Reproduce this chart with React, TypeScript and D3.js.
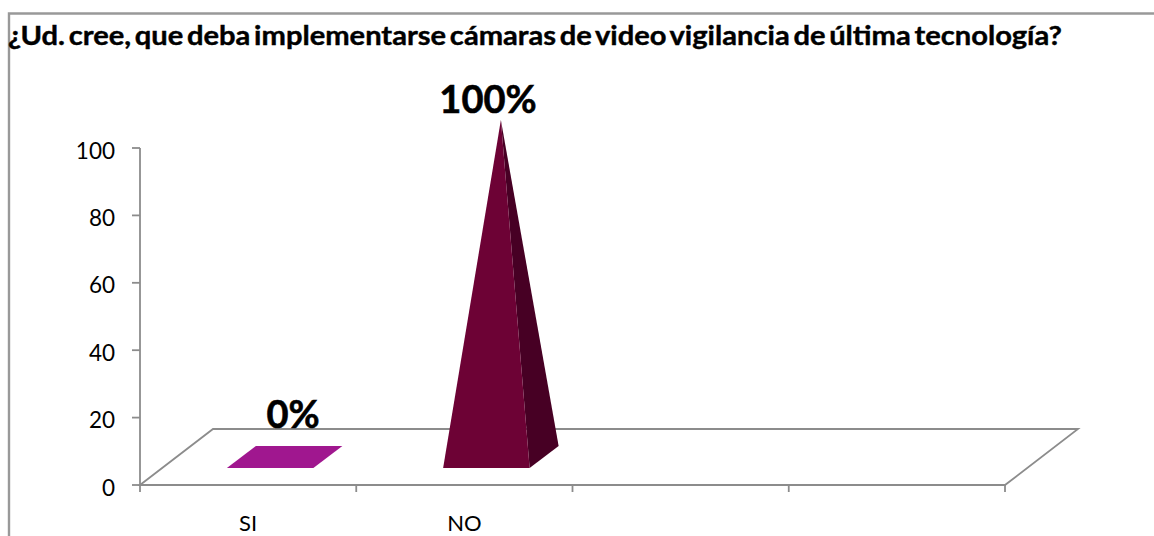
import React from "react";
import * as d3 from "d3";

const categories = ["SI", "NO", "", ""];
const values = [0, 100];
const labels = ["0%", "100%"];
const yTicks = [0, 20, 40, 60, 80, 100];
const titleText = "¿Ud. cree, que deba implementarse cámaras de video vigilancia de última tecnología?";
const FONT = "Lato, Carlito, 'Open Sans', sans-serif";
const GREY = "#8c8c8c";

export default function App() {
  const y = d3.scaleLinear().domain([0, 100]).range([485, 148]);
  const x = d3.scaleBand().domain(categories.map((c, i) => String(i))).range([140, 1005]);
  const depthX = 73;
  const depthY = 56;
  const barW = x.bandwidth() * 0.4;
  const floor = d3.path();
  floor.moveTo(140, 485);
  floor.lineTo(140 + depthX, 485 - depthY);
  floor.lineTo(1005 + depthX, 485 - depthY);
  floor.lineTo(1005, 485);
  floor.closePath();
  const line = d3.line();
  const ticksX = categories.map((c, i) => x(String(i))!).concat(1005);
  return (
    <svg width={1154} height={536} style={{ position: "absolute", left: 0, top: 0, background: "#fff" }}>
      <path d="M9,536V13.5H1154" fill="none" stroke="#999" strokeWidth={2.4} />
      <text x={8} y={45} fontFamily={FONT} fontWeight={700} fontSize={26} fill="#000" stroke="#000" strokeWidth={0.4} wordSpacing={-3} textLength={1054} lengthAdjust="spacingAndGlyphs">{titleText}</text>
      <path d={floor.toString()} fill="none" stroke={GREY} strokeWidth={1.8} />
      <line x1={140} x2={140} y1={y(100)} y2={y(0)} stroke={GREY} strokeWidth={1.8} />
      {yTicks.map((t) => (
        <g key={t}>
          <line x1={132} x2={140} y1={y(t)} y2={y(t)} stroke={GREY} strokeWidth={1.8} />
          <text x={115} y={y(t) + 10.5} textAnchor="end" fontFamily={FONT} fontSize={22.5} fill="#000">{t}</text>
        </g>
      ))}
      {ticksX.map((t, i) => (
        <line key={i} x1={t} x2={t} y1={485} y2={492} stroke={GREY} strokeWidth={1.8} />
      ))}
      {categories.slice(0, 2).map((c, i) => (
        <text key={c} x={x(String(i))! + x.bandwidth() / 2} y={531} textAnchor="middle" fontFamily={FONT} fontSize={22} fill="#000">{c}</text>
      ))}
      {values.map((v, i) => {
        const cx = x(String(i))! + x.bandwidth() / 2 + 22;
        const l = cx - barW / 2;
        const r = cx + barW / 2;
        const front = y(0) - 17;
        const back = y(0) - 39;
        const dx = 29;
        const apex: [number, number] = [cx + dx / 2, y(v) - 28];
        if (v === 0) {
          return (
            <path key={i} d={line([[l, front], [r, front], [r + dx, back], [l + dx, back]])! + "Z"} fill="#a0178f" />
          );
        }
        return (
          <g key={i}>
            <path d={line([[r, front], [r + dx, back], apex])! + "Z"} fill="#470024" />
            <path d={line([[l, front], [r, front], apex])! + "Z"} fill="#6d0235" />
          </g>
        );
      })}
      <text x={293} y={428} textAnchor="middle" fontFamily={FONT} fontWeight={700} fontSize={38} fill="#000" stroke="#000" strokeWidth={0.6}>{labels[0]}</text>
      <text x={488} y={113} textAnchor="middle" fontFamily={FONT} fontWeight={700} fontSize={38} fill="#000" stroke="#000" strokeWidth={0.6}>{labels[1]}</text>
    </svg>
  );
}
